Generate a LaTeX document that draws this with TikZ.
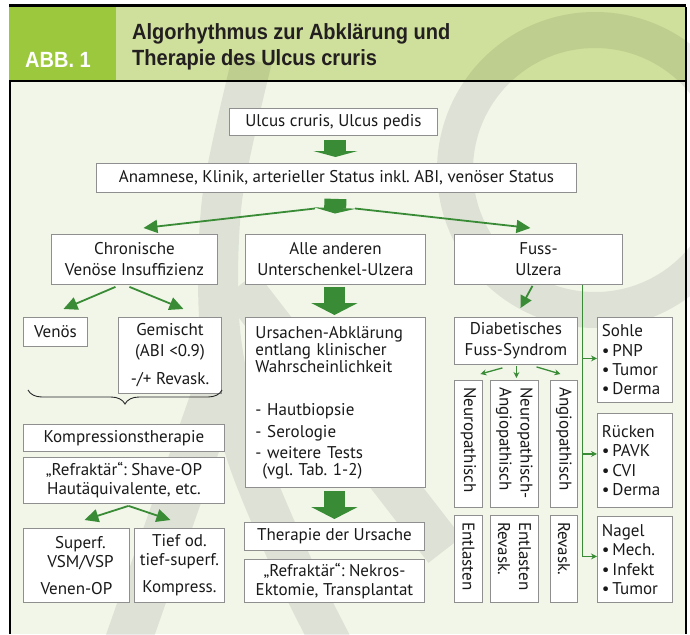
\documentclass[tikz,border=0pt]{standalone}
\usepackage{fontspec}
\setmainfont{PT Sans}
\newfontfamily\titlefont[FakeStretch=0.91]{Liberation Sans}
\usetikzlibrary{arrows.meta,decorations.pathreplacing,calc}
\definecolor{abbgreen}{HTML}{9BC83D}
\definecolor{titlegreen}{HTML}{CEE09B}
\definecolor{bodybg}{HTML}{F1F6E9}
\definecolor{arrgreen}{HTML}{3A8B36}
\definecolor{boxgray}{HTML}{8F8F8F}
\definecolor{titletext}{HTML}{231F20}
\frenchspacing
\begin{document}
\begin{tikzpicture}[x=1pt,y=-1pt,
  bx/.style={draw=boxgray, line width=0.9pt, fill=white, inner sep=0pt, anchor=north west,
    text=black!90, align=center, font=\fontsize{17}{19}\selectfont},
  vtext/.style={rotate=-90, anchor=west, align=left, inner sep=0pt, text=black!90,
    font=\fontsize{17}{21}\selectfont},
  thinarr/.style={draw=arrgreen, line width=1.8pt, -{Triangle[length=14pt,width=13pt]}},
  smallarr/.style={draw=arrgreen, line width=1.3pt, -{Stealth[length=6pt,width=6pt]}},
  titletxt/.style={inner sep=0pt, anchor=base west, text=titletext,
    font=\titlefont\bfseries\fontsize{22}{26}\selectfont}
]
\useasboundingbox (0,0) rectangle (690,634);
% backgrounds
\fill[white] (0,0) rectangle (690,634);
\fill[bodybg] (10,81) rectangle (686,634);
\fill[titlegreen] (9,7.5) rectangle (686,81);
\fill[abbgreen] (9,7.5) rectangle (116,81);
% watermark
\begin{scope}[transparency group, opacity=0.08]
  \clip (0,0) rectangle (690,634);
  \fill[black, even odd rule] (595,170) circle[radius=158pt] (595,170) circle[radius=122pt];
  \draw[black, line width=40pt] plot[smooth] coordinates {(252,60) (222,200) (220,330) (245,450) (290,560) (335,650)};
  \draw[black, line width=46pt] (125,650) -- (218,385);
  \draw[black, line width=42pt] (240,285) -- (445,550);
\end{scope}
% frame lines
\fill[black] (9,4) rectangle (686,7.5);
\draw[black, line width=1.3pt] (686,7) -- (686,634);
\draw[black, line width=1.2pt] (9,81) -- (686,81);
\draw[black, line width=1.2pt] (10,81) -- (10,634);
% header text
\node[inner sep=0pt, anchor=base, text=white, font=\titlefont\bfseries\fontsize{22}{26}\selectfont] (abb) at (58,67) {ABB. 1};
\node[titletxt] (title1) at (132,40) {Algorhythmus zur Abklärung und};
\node[titletxt] (title2) at (132,65) {Therapie des Ulcus cruris};
% boxes
\node[bx, minimum width=208pt, minimum height=27pt] (ulcus) at (229,108) {Ulcus cruris, Ulcus pedis};
\node[bx, minimum width=480pt, minimum height=29pt] (anam) at (96,163) {Anamnese, Klinik, arterieller Status inkl. ABI, venöser Status};
\node[bx, minimum width=166pt, minimum height=50pt, font=\fontsize{17}{21}\selectfont] (chron) at (51,234) {Chronische\\Venöse Insuffizienz};
\node[bx, minimum width=180pt, minimum height=50pt, font=\fontsize{17}{21}\selectfont] (alle) at (245,234) {Alle anderen\\Unterschenkel-Ulzera};
\node[bx, minimum width=168pt, minimum height=50pt, font=\fontsize{17}{21}\selectfont] (fuss) at (454,234) {Fuss-\\Ulzera};
\node[bx, minimum width=64pt, minimum height=29pt] (venos) at (23,317) {Venös};
\node[bx, minimum width=103pt, minimum height=76pt, font=\fontsize{17}{21}\selectfont] (gem) at (118,317) {Gemischt\\(ABI <0.9)\\[7pt]-/+ Revask.};
\node[bx, minimum width=201pt, minimum height=27pt] (komp) at (23,424) {Kompressionstherapie};
\node[bx, minimum width=201pt, minimum height=46pt] (refr1) at (23,457) {„Refraktär“: Shave-OP\\Hautäquivalente, etc.};
\node[bx, minimum width=106pt, minimum height=74pt] (superf) at (23,528) {\hspace*{8pt}Superf.\\\hspace*{8pt}VSM/VSP\\[8pt]Venen-OP};
\node[bx, minimum width=90pt, minimum height=74pt] (tief) at (134,528) {Tief od.\\tief-superf.\\[8pt]Kompress.};
\node[bx, minimum width=180pt, minimum height=170pt, text width=160pt, align=left, font=\fontsize{17}{17}\selectfont] (urs) at (245,317)
  {Ursachen-Abklärung\\entlang klinischer\\Wahrscheinlichkeit\\[26pt]- Hautbiopsie\\[5pt]- Serologie\\[4pt]- weitere Tests\\\hspace*{7pt}(vgl. Tab. 1-2)};
\node[bx, minimum width=180pt, minimum height=28pt] (ther) at (244,522) {Therapie der Ursache};
\node[bx, minimum width=180pt, minimum height=43pt] (refr2) at (244,559) {„Refraktär“: Nekros-\\Ektomie, Transplantat};
\node[bx, minimum width=123pt, minimum height=47pt, font=\fontsize{17}{21}\selectfont] (diab) at (454,317) {Diabetisches\\Fuss-Syndrom};
\node[bx, minimum width=28pt, minimum height=127pt] (neuro) at (454,380) {};
\node[bx, minimum width=48pt, minimum height=127pt] (neuang) at (490,380) {};
\node[bx, minimum width=27pt, minimum height=127pt] (angio) at (550,380) {};
\node[bx, minimum width=28pt, minimum height=87pt] (entl1) at (454,515) {};
\node[bx, minimum width=48pt, minimum height=87pt] (entl2) at (490,515) {};
\node[bx, minimum width=27pt, minimum height=87pt] (revask) at (550,515) {};
\node[bx, minimum width=75pt, minimum height=85pt, text width=66pt, align=left, font=\fontsize{17}{19.3}\selectfont] (sohle) at (597,317) {Sohle\\•\,PNP\\•\,Tumor\\•\,Derma};
\node[bx, minimum width=75pt, minimum height=94pt, text width=66pt, align=left, font=\fontsize{17}{19.3}\selectfont] (rueck) at (597,413) {Rücken\\•\,PAVK\\•\,CVI\\•\,Derma};
\node[bx, minimum width=75pt, minimum height=86pt, text width=66pt, align=left, font=\fontsize{17}{19.3}\selectfont] (nagel) at (597,516) {Nagel\\•\,Mech.\\•\,Infekt\\•\,Tumor};
% rotated texts
\node[vtext] (neuroT) at ($(neuro.north)+(0,7)$) {Neuropathisch};
\node[vtext] (neuangT) at ($(neuang.north)+(0,7)$) {Neuropathisch-\\Angiopathisch};
\node[vtext] (angioT) at ($(angio.north)+(0,7)$) {Angiopathisch};
\node[vtext] (entl1T) at ($(entl1.north)+(0,7)$) {Entlasten};
\node[vtext] (entl2T) at ($(entl2.north)+(0,7)$) {Entlasten\\Revask.};
\node[vtext] (revaskT) at ($(revask.north)+(0,7)$) {Revask.};
% brace
\coordinate (braceL) at (28,390);
\coordinate (braceR) at (222,390);
\draw[decorate, decoration={brace, mirror, amplitude=14pt}, line width=0.9pt, black!85] (braceL) -- (braceR);
% block arrows
\draw[arrgreen, line width=22pt, -{Triangle[length=6pt,width=44pt]}] ($(ulcus.south)+(2,4)$) -- ($(anam.north)+(-1,-6)$);
\coordinate (split) at (335,213.5);
\draw[arrgreen, line width=22pt, -{Triangle[length=5.5pt,width=42pt]}] ($(anam.south)+(-1,6)$) -- (split);
\draw[arrgreen, line width=21pt, -{Triangle[length=12pt,width=46pt]}] ($(alle.south)+(-1,2)$) -- ($(urs.north)+(-1,-2)$);
\draw[arrgreen, line width=21pt, -{Triangle[length=12pt,width=46pt]}] ($(urs.south)+(-1,3)$) -- ($(ther.north)+(0,-3)$);
% thin arrows
\coordinate (sL) at (315,208.5);
\coordinate (sR) at (355,208.5);
\draw[thinarr] (sL) -- ($(chron.north)+(9,-6)$);
\draw[thinarr] (sR) -- ($(fuss.north)+(-8,-6)$);
\draw[thinarr] ($(chron.south)+(-19,2)$) -- ($(venos.north)+(8,-8)$);
\draw[thinarr] ($(chron.south)+(-5,2)$) -- ($(gem.north)+(13.5,-8)$);
\draw[thinarr] ($(refr1.south)+(4.5,2)$) -- ($(superf.north)+(8,-8)$);
\draw[thinarr] ($(refr1.south)+(4.5,2)$) -- ($(tief.north)+(-9,-8)$);
\draw[thinarr, -{Triangle[length=12pt,width=12pt]}] ($(fuss.south)+(-6,1)$) -- ($(diab.north)+(4.5,-9)$);
\draw[smallarr] ($(diab.south)+(-13.5,3)$) -- ($(neuro.north)+(12,-6)$);
\draw[smallarr] ($(diab.south)+(0.5,1)$) -- ($(neuang.north)+(2,-2)$);
\draw[smallarr] ($(diab.south)+(20.5,2)$) -- ($(angio.north)+(-3.5,-6)$);
% vertical distribution line
\coordinate (vtop) at ($(fuss.south)+(44,0)$);
\coordinate (vS) at ($(sohle.west)+(0,-1.5)$);
\coordinate (vR) at ($(rueck.west)+(0,-6.5)$);
\coordinate (vN) at ($(nagel.west)+(0,-3)$);
\draw[arrgreen, line width=1.8pt] (vtop) -- (vtop |- vN);
\draw[smallarr, line width=1.6pt] (vtop |- vS) -- (vS);
\draw[smallarr, line width=1.6pt] (vtop |- vR) -- (vR);
\draw[smallarr, line width=1.6pt] (vtop |- vN) -- (vN);
\end{tikzpicture}
\end{document}
